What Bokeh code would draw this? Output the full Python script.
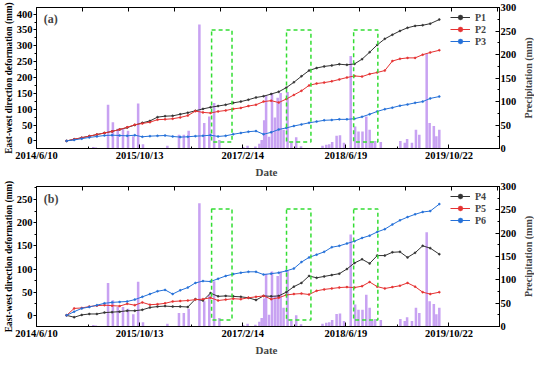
import math
import pandas as pd
from bokeh.plotting import figure
from bokeh.models import (Range1d, LinearAxis, DatetimeAxis, FixedTicker, SingleIntervalTicker,
                          CustomJSTickFormatter, Legend, LegendItem, Label, ColumnDataSource)
from bokeh.layouts import column, row
from bokeh.embed import file_html
from bokeh.resources import INLINE

# ---------------- data ----------------
dates = ["2014-10-31", "2014-12-06", "2015-01-11", "2015-02-16", "2015-03-24", "2015-04-29",
         "2015-06-04", "2015-07-10", "2015-08-15", "2015-09-20", "2015-10-26", "2015-12-01",
         "2016-01-06", "2016-02-11", "2016-03-18", "2016-04-23", "2016-05-29", "2016-07-04",
         "2016-08-09", "2016-09-14", "2016-10-20", "2016-11-25", "2016-12-31", "2017-02-05",
         "2017-03-13", "2017-04-18", "2017-05-24", "2017-06-29", "2017-08-04", "2017-09-09",
         "2017-10-15", "2017-11-20", "2017-12-26", "2018-01-31", "2018-03-08", "2018-04-13",
         "2018-05-19", "2018-06-24", "2018-07-30", "2018-09-04", "2018-10-10", "2018-11-15",
         "2018-12-21", "2019-01-26", "2019-03-03", "2019-04-08", "2019-05-14", "2019-06-19",
         "2019-07-25", "2019-09-06"]

P1 = [0, 5, 10, 15, 20, 25, 30, 36, 42, 50, 57, 63, 75, 78, 79, 84, 89, 95, 101, 106,
      110, 114, 120, 124, 130, 137, 141, 148, 155, 168, 185, 204, 222, 230, 235, 238, 242, 240, 243, 258,
      280, 303, 322, 335, 347, 357, 363, 365, 370, 383]
P2 = [0, 5, 10, 15, 20, 25, 30, 36, 43, 51, 55, 59, 67, 68, 70, 74, 80, 94, 90, 88,
      93, 96, 101, 104, 110, 114, 124, 127, 121, 132, 145, 158, 175, 181, 184, 188, 194, 200, 205, 203,
      211, 216, 222, 252, 259, 262, 262, 272, 279, 286]
P3 = [0, 3, 7, 11, 14, 17, 18, 17, 16, 18, 13, 15, 16, 17, 14, 12, 13, 15, 16, 18,
      14, 16, 21, 25, 29, 31, 21, 27, 36, 41, 47, 52, 57, 61, 65, 66, 68, 68, 70, 76,
      84, 93, 100, 105, 111, 115, 120, 124, 134, 140]
P4 = [0, -4, 1, 3, 3, 6, 7, 8, 10, 10, 12, 17, 19, 20, 19, 19, 18, 35, 32, 48,
      41, 42, 41, 40, 38, 33, 42, 41, 42, 50, 62, 70, 85, 81, 84, 87, 90, 100, 113, 121,
      112, 129, 129, 136, 137, 125, 135, 150, 145, 132]
P5 = [0, 15, 16, 19, 21, 22, 21, 20, 25, 22, 28, 23, 24, 26, 30, 31, 32, 34, 35, 38,
      32, 34, 36, 35, 38, 40, 42, 35, 38, 44, 46, 47, 45, 53, 56, 58, 60, 61, 60, 63,
      72, 62, 58, 61, 64, 70, 62, 50, 46, 50]
P6 = [0, 8, 15, 18, 22, 26, 28, 29, 30, 34, 40, 46, 52, 55, 46, 54, 60, 70, 74, 73,
      79, 85, 89, 92, 94, 94, 88, 90, 92, 96, 101, 115, 125, 131, 137, 147, 150, 155, 160, 167,
      172, 180, 186, 196, 205, 212, 218, 223, 225, 240]

precip_dates = ["2015-03-07", "2015-03-19", "2015-05-16", "2015-06-08", "2015-07-01", "2015-07-26",
                "2015-08-19", "2015-09-13", "2015-10-06", "2015-10-29", "2016-02-22", "2016-04-17",
                "2016-05-10", "2016-06-02", "2016-07-23", "2016-08-15", "2016-09-08", "2016-10-01",
                "2016-10-26", "2017-02-16", "2017-03-09", "2017-04-15", "2017-05-04", "2017-05-15",
                "2017-05-27", "2017-06-05", "2017-06-19", "2017-07-03", "2017-07-17", "2017-07-30",
                "2017-08-13", "2017-08-27", "2017-09-15", "2017-10-03", "2017-10-26", "2017-11-18",
                "2018-02-28", "2018-03-18", "2018-04-01", "2018-04-15", "2018-05-06", "2018-05-22",
                "2018-06-10", "2018-07-12", "2018-08-02", "2018-08-18", "2018-09-06", "2018-09-24",
                "2018-10-10", "2018-10-22", "2018-11-05", "2018-12-02", "2019-03-05", "2019-03-26",
                "2019-04-06", "2019-04-29", "2019-05-18", "2019-06-03", "2019-07-08", "2019-07-22",
                "2019-08-11", "2019-08-23", "2019-09-06"]
precip_mm = [3, 2, 93, 56, 42, 42, 38, 26, 96, 9, 6, 29,
             29, 38, 264, 54, 68, 97, 18, 3, 6, 4, 10, 18,
             60, 113, 25, 118, 66, 108, 118, 40, 120, 12, 24, 5,
             6, 8, 9, 14, 27, 28, 12, 197, 47, 36, 36, 68,
             40, 13, 16, 14, 16, 12, 20, 12, 40, 29, 202, 54,
             48, 26, 40]

box_start = ["2016-09-19", "2017-09-10", "2018-07-26"]
box_end = ["2016-12-25", "2018-01-04", "2018-11-18"]
box_low, box_high = 14, 252

tick_dates = ["2014-06-10", "2015-10-13", "2017-02-14", "2018-06-19", "2019-10-22"]
minor_dates = ["2015-02-10", "2016-06-14", "2017-10-17", "2019-02-19"]
top_tick_dates = ["2015-01-15", "2015-08-22", "2016-03-28", "2016-11-02", "2017-06-09",
                  "2018-01-14", "2018-08-21", "2019-03-28", "2019-11-02", "2020-06-08"]
x_start, x_end = "2014-06-10", "2020-06-18"

# ---------------- styling ----------------
FONT = "Liberation Serif"
COLS = ["#333333", "#e53232", "#2470d8"]
BAR = "#c8a2f2"
GREEN = "#33dd33"
DAY_MS = 86400000
MAIN_W, SIDE_W = 521, 13
BOTTOM_B = 16
DATE_H = 15


def ms(s):
    return pd.Timestamp(s).value / 1e6


def style_axis(ax, tick_in=4, tick_out=0):
    ax.major_label_text_font = FONT
    ax.major_label_text_font_style = "bold"
    ax.major_label_text_font_size = "10.5px"
    ax.major_label_text_color = "black"
    ax.axis_label_text_font = FONT
    ax.axis_label_text_font_style = "bold"
    ax.axis_label_text_color = "black"
    ax.axis_line_color = "black"
    ax.major_tick_line_color = "black"
    ax.minor_tick_line_color = "black"
    ax.major_tick_in = tick_in
    ax.major_tick_out = tick_out
    ax.minor_tick_in = 2 if tick_in else 0
    ax.minor_tick_out = 0 if tick_in else 2
    ax.major_label_standoff = 1
    ax.axis_label_standoff = 0


date_fmt = CustomJSTickFormatter(code="""
const d = new Date(tick);
return d.getUTCFullYear() + "/" + (d.getUTCMonth() + 1) + "/" + d.getUTCDate();
""")
blank_fmt = CustomJSTickFormatter(code="return '';")


def text_strip(width, height, text, x, y, angle=0.0, size="11px", top=0, bottom=0):
    f = figure(width=width, height=height, x_range=Range1d(0, 1), y_range=Range1d(0, 1),
               output_backend="svg", toolbar_location=None,
               x_axis_location=None, y_axis_location=None,
               min_border_left=0, min_border_right=0, min_border_top=top, min_border_bottom=bottom)
    f.xgrid.visible = False
    f.ygrid.visible = False
    f.outline_line_color = None
    f.add_layout(Label(x=x, y=y, text=text, angle=angle, text_align="center", text_baseline="middle",
                       text_font=FONT, text_font_style="bold", text_font_size=size))
    return f


def make_panel(tag, names, series, y_rng, tag_y, height, top_border):
    p = figure(width=MAIN_W, height=height, x_axis_type="datetime",
               x_range=Range1d(ms(x_start), ms(x_end)), y_range=Range1d(*y_rng),
               output_backend="svg", toolbar_location=None,
               min_border_left=30, min_border_right=22,
               min_border_top=top_border, min_border_bottom=BOTTOM_B)
    p.xgrid.visible = False
    p.ygrid.visible = False
    p.outline_line_color = "black"
    p.background_fill_color = "white"
    p.border_fill_color = "white"

    # bottom axis (its title "Date" is drawn in a strip below)
    xa = p.xaxis[0]
    xa.ticker = FixedTicker(ticks=[ms(d) for d in tick_dates], minor_ticks=[ms(d) for d in minor_dates])
    xa.formatter = date_fmt
    style_axis(xa)

    # left axis
    ya = p.yaxis[0]
    ya.ticker = SingleIntervalTicker(interval=50, num_minor_ticks=2)
    ya.axis_label = "East-west direction deformation (mm)"
    style_axis(ya, tick_in=0, tick_out=3)
    ya.axis_label_text_font_size = "9.3px"

    # right axis (precipitation)
    p.extra_y_ranges = {"pr": Range1d(0, 300)}
    ra = LinearAxis(y_range_name="pr", ticker=SingleIntervalTicker(interval=50, num_minor_ticks=2))
    style_axis(ra)
    p.add_layout(ra, "right")

    # top axis (ticks only)
    ta = DatetimeAxis(ticker=FixedTicker(ticks=[ms(d) for d in top_tick_dates]), formatter=blank_fmt)
    style_axis(ta)
    ta.major_label_text_font_size = "0px"
    ta.major_label_standoff = 0
    p.add_layout(ta, "above")

    # precipitation bars
    bsrc = ColumnDataSource(dict(d=[ms(d) for d in precip_dates], v=precip_mm))
    p.vbar(x="d", top="v", bottom=0, width=12 * DAY_MS, source=bsrc, y_range_name="pr",
           fill_color=BAR, line_color=None)

    # deformation series
    xs = [ms(d) for d in dates]
    items = []
    for name, vals, col in zip(names, series, COLS):
        src = ColumnDataSource(dict(x=xs, y=vals))
        ln = p.line("x", "y", source=src, line_color=col, line_width=1)
        pt = p.scatter("x", "y", source=src, size=2, marker="circle", fill_color=col,
                       line_color=col, line_width=0.5)
        items.append(LegendItem(label=name, renderers=[ln, pt]))

    # dashed green boxes
    qsrc = ColumnDataSource(dict(l=[ms(d) for d in box_start], r=[ms(d) for d in box_end],
                                 b=[box_low] * 3, t=[box_high] * 3))
    p.quad(left="l", right="r", bottom="b", top="t", source=qsrc, y_range_name="pr",
           fill_color=None, line_color=GREEN, line_width=1.5, line_dash="4 3")

    leg = Legend(items=items, location="top_right", margin=4, padding=2, spacing=0,
                 glyph_width=20, glyph_height=12, label_height=12, label_width=20, label_standoff=5,
                 background_fill_alpha=0, border_line_color=None,
                 label_text_font=FONT, label_text_font_style="bold", label_text_font_size="10px")
    p.add_layout(leg)

    p.add_layout(Label(x=ms("2014-07-15"), y=tag_y, text=tag, text_font=FONT,
                       text_font_style="bold", text_font_size="12px", text_baseline="middle"))

    side = text_strip(SIDE_W, height, "Precipitation (mm)", 0.5, 0.5, angle=math.pi / 2,
                      size="10px", top=top_border, bottom=BOTTOM_B)
    date = text_strip(MAIN_W + SIDE_W, DATE_H, "Date", 0.498, 0.5)
    return column(row(p, side, spacing=0), date, spacing=0)


pa = make_panel("(a)", ["P1", "P2", "P3"], [P1, P2, P3], (-24, 421), 385, 164, 7)
pb = make_panel("(b)", ["P4", "P5", "P6"], [P4, P5, P6], (-24, 278), 250, 163, 7)

layout = column(pa, pb, spacing=0)
open("out.html", "w").write(file_html(layout, INLINE))
